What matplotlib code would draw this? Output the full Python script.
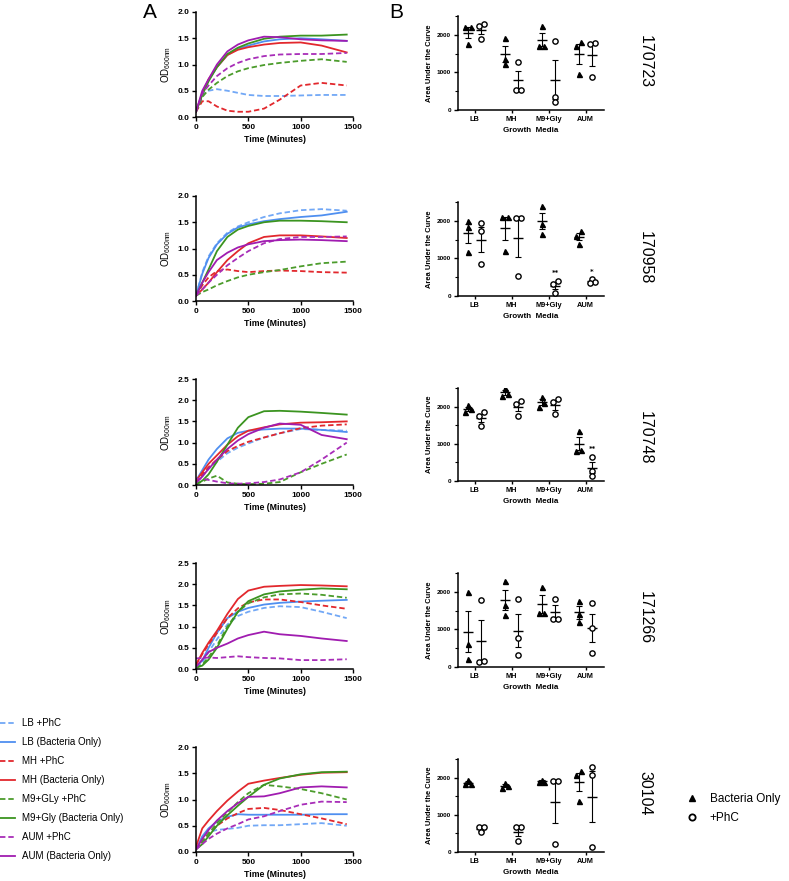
import numpy as np
import matplotlib.pyplot as plt
from matplotlib.lines import Line2D
from matplotlib.ticker import FormatStrFormatter, MultipleLocator

plt.rcParams['font.family'] = ['Liberation Sans', 'DejaVu Sans']

# sampling times (minutes) shared by all growth curves
time_min = [0, 60, 120, 200, 300, 400, 500, 650, 800, 1000, 1200, 1440]

strains = ['170723', '170958', '170748', '171266', '30104']
media = ['LB', 'MH', 'M9+Gly', 'AUM']
od_top = [2.0, 2.0, 2.5, 2.5, 2.0]

curve_labels = ['LB +PhC', 'LB (Bacteria Only)', 'MH +PhC', 'MH (Bacteria Only)',
                'M9+GLy +PhC', 'M9+Gly (Bacteria Only)', 'AUM +PhC', 'AUM (Bacteria Only)']

# OD600 growth curves, one dict per strain
od_170723 = {
    'LB +PhC':                [0.10, 0.42, 0.50, 0.53, 0.50, 0.46, 0.42, 0.40, 0.40, 0.41, 0.42, 0.42],
    'LB (Bacteria Only)':     [0.10, 0.45, 0.70, 0.95, 1.18, 1.30, 1.36, 1.44, 1.48, 1.50, 1.48, 1.45],
    'MH +PhC':                [0.10, 0.30, 0.30, 0.20, 0.12, 0.10, 0.10, 0.16, 0.33, 0.60, 0.65, 0.60],
    'MH (Bacteria Only)':     [0.10, 0.45, 0.72, 0.95, 1.18, 1.28, 1.33, 1.38, 1.41, 1.42, 1.36, 1.23],
    'M9+GLy +PhC':            [0.10, 0.38, 0.52, 0.65, 0.78, 0.87, 0.93, 0.99, 1.03, 1.07, 1.10, 1.05],
    'M9+Gly (Bacteria Only)': [0.10, 0.42, 0.68, 0.95, 1.20, 1.32, 1.40, 1.49, 1.53, 1.55, 1.55, 1.57],
    'AUM +PhC':               [0.10, 0.45, 0.60, 0.78, 0.93, 1.03, 1.10, 1.16, 1.19, 1.20, 1.20, 1.22],
    'AUM (Bacteria Only)':    [0.10, 0.50, 0.72, 1.00, 1.25, 1.38, 1.46, 1.53, 1.52, 1.48, 1.46, 1.45],
}
od_170958 = {
    'LB +PhC':                [0.10, 0.55, 0.85, 1.10, 1.30, 1.42, 1.50, 1.60, 1.67, 1.73, 1.75, 1.72],
    'LB (Bacteria Only)':     [0.10, 0.52, 0.82, 1.08, 1.28, 1.40, 1.46, 1.52, 1.56, 1.60, 1.63, 1.70],
    'MH +PhC':                [0.10, 0.30, 0.45, 0.57, 0.60, 0.57, 0.55, 0.57, 0.58, 0.57, 0.55, 0.54],
    'MH (Bacteria Only)':     [0.10, 0.22, 0.35, 0.55, 0.78, 0.95, 1.10, 1.22, 1.25, 1.25, 1.23, 1.20],
    'M9+GLy +PhC':            [0.10, 0.17, 0.22, 0.30, 0.38, 0.45, 0.50, 0.55, 0.59, 0.66, 0.72, 0.75],
    'M9+Gly (Bacteria Only)': [0.10, 0.35, 0.60, 0.95, 1.22, 1.36, 1.43, 1.50, 1.53, 1.53, 1.52, 1.50],
    'AUM +PhC':               [0.10, 0.22, 0.35, 0.50, 0.68, 0.82, 0.95, 1.10, 1.18, 1.22, 1.22, 1.23],
    'AUM (Bacteria Only)':    [0.10, 0.35, 0.55, 0.78, 0.92, 1.02, 1.08, 1.14, 1.16, 1.17, 1.16, 1.14],
}
od_170748 = {
    'LB +PhC':                [0.05, 0.20, 0.38, 0.55, 0.75, 0.88, 0.98, 1.12, 1.22, 1.32, 1.30, 1.28],
    'LB (Bacteria Only)':     [0.10, 0.35, 0.60, 0.85, 1.10, 1.23, 1.28, 1.31, 1.33, 1.33, 1.30, 1.25],
    'MH +PhC':                [0.05, 0.25, 0.42, 0.60, 0.80, 0.92, 1.02, 1.12, 1.22, 1.34, 1.40, 1.43],
    'MH (Bacteria Only)':     [0.10, 0.30, 0.50, 0.70, 0.95, 1.15, 1.28, 1.36, 1.43, 1.47, 1.48, 1.50],
    'M9+GLy +PhC':            [0.02, 0.08, 0.15, 0.22, 0.06, 0.03, 0.02, 0.03, 0.07, 0.30, 0.50, 0.72],
    'M9+Gly (Bacteria Only)': [0.02, 0.10, 0.25, 0.55, 0.95, 1.35, 1.60, 1.74, 1.75, 1.73, 1.70, 1.66],
    'AUM +PhC':               [0.15, 0.15, 0.12, 0.08, 0.04, 0.03, 0.04, 0.07, 0.13, 0.30, 0.60, 1.00],
    'AUM (Bacteria Only)':    [0.05, 0.20, 0.38, 0.60, 0.85, 1.05, 1.20, 1.35, 1.45, 1.42, 1.18, 1.08],
}
od_171266 = {
    'LB +PhC':                [0.05, 0.15, 0.40, 0.70, 1.05, 1.25, 1.35, 1.44, 1.48, 1.46, 1.35, 1.20],
    'LB (Bacteria Only)':     [0.05, 0.20, 0.50, 0.85, 1.20, 1.35, 1.44, 1.52, 1.56, 1.59, 1.61, 1.63],
    'MH +PhC':                [0.10, 0.35, 0.58, 0.85, 1.20, 1.43, 1.57, 1.64, 1.64, 1.58, 1.50, 1.42],
    'MH (Bacteria Only)':     [0.10, 0.38, 0.62, 0.90, 1.30, 1.65, 1.85, 1.94, 1.96, 1.98, 1.97, 1.95],
    'M9+GLy +PhC':            [0.03, 0.10, 0.28, 0.55, 1.00, 1.35, 1.55, 1.69, 1.76, 1.78, 1.75, 1.68],
    'M9+Gly (Bacteria Only)': [0.03, 0.08, 0.22, 0.50, 0.95, 1.35, 1.60, 1.76, 1.83, 1.87, 1.90, 1.88],
    'AUM +PhC':               [0.25, 0.26, 0.27, 0.26, 0.28, 0.30, 0.28, 0.26, 0.25, 0.21, 0.21, 0.23],
    'AUM (Bacteria Only)':    [0.05, 0.22, 0.40, 0.50, 0.60, 0.72, 0.80, 0.88, 0.82, 0.78, 0.72, 0.66],
}
od_30104 = {
    'LB +PhC':                [0.05, 0.25, 0.38, 0.42, 0.44, 0.46, 0.50, 0.51, 0.51, 0.53, 0.55, 0.50],
    'LB (Bacteria Only)':     [0.05, 0.30, 0.45, 0.58, 0.67, 0.72, 0.71, 0.71, 0.71, 0.71, 0.72, 0.72],
    'MH +PhC':                [0.05, 0.20, 0.35, 0.50, 0.64, 0.74, 0.82, 0.84, 0.80, 0.72, 0.64, 0.53],
    'MH (Bacteria Only)':     [0.10, 0.45, 0.60, 0.78, 0.98, 1.15, 1.30, 1.36, 1.41, 1.47, 1.51, 1.52],
    'M9+GLy +PhC':            [0.05, 0.20, 0.35, 0.55, 0.75, 0.95, 1.12, 1.28, 1.25, 1.20, 1.12, 1.00],
    'M9+Gly (Bacteria Only)': [0.05, 0.15, 0.30, 0.50, 0.70, 0.88, 1.05, 1.28, 1.40, 1.48, 1.52, 1.53],
    'AUM +PhC':               [0.05, 0.15, 0.25, 0.35, 0.45, 0.53, 0.62, 0.68, 0.78, 0.90, 0.96, 0.95],
    'AUM (Bacteria Only)':    [0.05, 0.25, 0.42, 0.60, 0.78, 0.93, 1.05, 1.06, 1.12, 1.23, 1.25, 1.23],
}
od_curves = [od_170723, od_170958, od_170748, od_171266, od_30104]

# area under the curve, 3 replicates per medium (LB, MH, M9+Gly, AUM)
auc_bact_170723 = [[2204, 2204, 1751], [1902, 1360, 1218], [2222, 1689, 1689], [1796, 1707, 960]]
auc_phc_170723 = [[2284, 2222, 1893], [1271, 542, 542], [1840, 356, 213], [1778, 1751, 871]]
auc_bact_170958 = [[2000, 1840, 1160], [2089, 2089, 1209], [2391, 1902, 1662], [1724, 1600, 1396]]
auc_phc_170958 = [[1929, 1724, 853], [2080, 2062, 524], [409, 329, 89], [444, 373, 356]]
auc_bact_170748 = [[2045, 1928, 1865], [2511, 2341, 2287], [2269, 2108, 1982], [1345, 834, 807]]
auc_phc_170748 = [[1857, 1749, 1480], [2161, 2072, 1758], [2206, 2135, 1794], [655, 278, 143]]
auc_bact_171266 = [[2000, 604, 222], [2288, 1651, 1389], [2140, 1432, 1432], [1755, 1415, 1188]]
auc_phc_171266 = [[1778, 142, 169], [1817, 769, 315], [1817, 1275, 1275], [1694, 1039, 384]]
auc_bact_30104 = [[1937, 1821, 1821], [1866, 1777, 1714], [1937, 1893, 1893], [2188, 2071, 1384]]
auc_phc_30104 = [[670, 670, 527], [670, 661, 304], [1911, 1911, 214], [2277, 2071, 125]]
auc_bact = [auc_bact_170723, auc_bact_170958, auc_bact_170748, auc_bact_171266, auc_bact_30104]
auc_phc = [auc_phc_170723, auc_phc_170958, auc_phc_170748, auc_phc_171266, auc_phc_30104]

# significance marks over the +PhC columns
sig_marks = [{}, {'M9+Gly': '**', 'AUM': '*'}, {'AUM': '**'}, {}, {}]

curve_colors = ['#72a8f6', '#4f8ff0', '#e2282d', '#e2282d',
                '#4c9c2c', '#3b9420', '#a82db8', '#a01cb0']

W, H = 789, 881
fig = plt.figure(figsize=(W / 100, H / 100), dpi=100)


def box(x0, x1, top, bottom):
    return [x0 / W, 1 - bottom / H, (x1 - x0) / W, (bottom - top) / H]


left_rows = [(12, 117), (196, 301), (379, 485), (563, 669), (747, 852)]
right_rows = [(16, 110), (202, 296), (388, 481), (573, 667), (759, 852)]
row_label_y = [62, 258, 438, 618, 793]


def spread(vals, step=0.07):
    offs = [0.0] * len(vals)
    order = np.argsort(vals)
    for a, b in zip(order[:-1], order[1:]):
        if abs(vals[b] - vals[a]) < 130 and offs[a] == 0 and offs[b] == 0:
            offs[a] -= step
            offs[b] += step
    return offs


def style_axes(ax):
    ax.spines['top'].set_visible(False)
    ax.spines['right'].set_visible(False)
    ax.spines['left'].set_linewidth(1.1)
    ax.spines['bottom'].set_linewidth(1.1)
    ax.tick_params(direction='out', length=3, width=1.0, pad=2)
    ax.tick_params(which='minor', direction='out', length=2, width=0.8)


handles = []
for r in range(5):
    # growth curves
    ax = fig.add_axes(box(196, 353, *left_rows[r]))
    curves = od_curves[r]
    for k, lab in enumerate(curve_labels):
        ls = (0, (3, 1.6)) if k % 2 == 0 else '-'
        ln, = ax.plot(time_min, curves[lab], color=curve_colors[k], ls=ls, lw=1.3, label=lab)
        if r == 4:
            handles.append(ln)
    ax.set_xlim(0, 1500)
    ax.set_ylim(0, od_top[r])
    ax.set_xticks([0, 500, 1000, 1500])
    ax.yaxis.set_major_locator(MultipleLocator(0.5))
    ax.yaxis.set_major_formatter(FormatStrFormatter('%.1f'))
    style_axes(ax)
    ax.tick_params(labelsize=6)
    for t in ax.get_xticklabels() + ax.get_yticklabels():
        t.set_fontweight('bold')
    ax.set_xlabel('Time (Minutes)', fontsize=6.3, fontweight='bold', labelpad=3)
    ax.set_ylabel(r'OD$_{\mathregular{600nm}}$', fontsize=7, labelpad=3)

    # area under the curve
    bx = fig.add_axes(box(458, 604, *right_rows[r]))
    for g in range(4):
        for vals, dx, mk, fc in [(auc_bact[r][g], -0.18, '^', 'k'), (auc_phc[r][g], 0.18, 'o', 'white')]:
            xc = g + dx
            offs = spread(vals)
            bx.plot([xc + o for o in offs], vals, ls='none', marker=mk, ms=3.6 if mk == '^' else 3.8,
                    mfc=fc, mec='k', mew=1.0, zorder=3)
            m = np.mean(vals)
            sem = np.std(vals, ddof=1) / np.sqrt(len(vals))
            bx.errorbar(xc, m, yerr=sem, fmt='none', ecolor='k', elinewidth=0.8,
                        capsize=2.2, capthick=0.8, zorder=2)
            bx.hlines(m, xc - 0.14, xc + 0.14, color='k', lw=1.0, zorder=2)
        mark = sig_marks[r].get(media[g])
        if mark:
            bx.text(g + 0.18, max(auc_phc[r][g]) + 200, mark, ha='center', va='center',
                    fontsize=5, fontweight='bold', family='DejaVu Sans')
    bx.set_xlim(-0.45, 3.5)
    bx.set_ylim(0, 2500)
    bx.set_xticks(range(4))
    bx.set_xticklabels(media)
    bx.set_yticks([0, 1000, 2000])
    bx.yaxis.set_minor_locator(MultipleLocator(500))
    style_axes(bx)
    bx.tick_params(axis='y', labelsize=4.6)
    bx.tick_params(axis='x', labelsize=5.3, length=2)
    for t in bx.get_xticklabels() + bx.get_yticklabels():
        t.set_fontweight('bold')
    bx.set_xlabel('Growth  Media', fontsize=5.8, fontweight='bold', labelpad=3)
    bx.set_ylabel('Area Under the Curve', fontsize=5.4, fontweight='bold', labelpad=3)

    fig.text(645 / W, 1 - row_label_y[r] / H, strains[r], rotation=270,
             ha='center', va='center', fontsize=11.5)

fig.text(150 / W, 1 - 12 / H, 'A', ha='center', va='center', fontsize=15)
fig.text(396 / W, 1 - 12 / H, 'B', ha='center', va='center', fontsize=15)

fig.legend(handles=handles, labels=curve_labels, loc='upper left',
           bbox_to_anchor=(0, 1 - 718 / H), frameon=False, fontsize=7,
           handlelength=1.55, handletextpad=0.7, labelspacing=0.93,
           borderpad=0, borderaxespad=0)

marker_handles = [Line2D([], [], ls='none', marker='^', ms=4.5, mfc='k', mec='k'),
                  Line2D([], [], ls='none', marker='o', ms=4.5, mfc='white', mec='k', mew=1.3)]
fig.legend(handles=marker_handles, labels=['Bacteria Only', '+PhC'], loc='upper left',
           bbox_to_anchor=(686 / W, 1 - 793 / H), frameon=False, fontsize=8.5,
           handlelength=1.0, handletextpad=1.0, labelspacing=0.6,
           borderpad=0, borderaxespad=0)

fig.savefig('out.png', dpi=100)
